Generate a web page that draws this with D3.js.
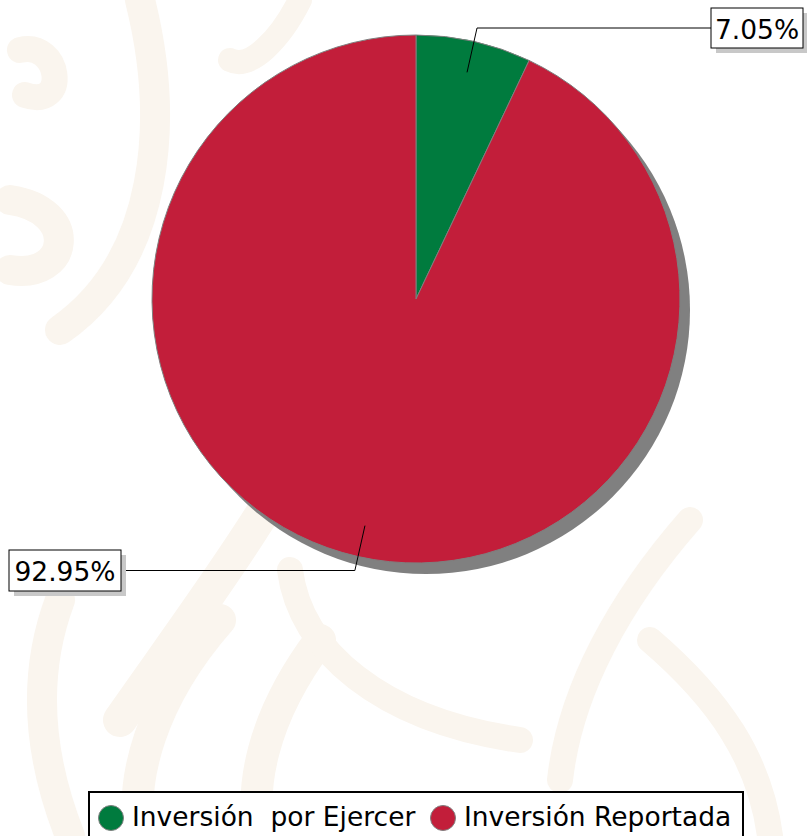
<!DOCTYPE html>
<html><head><meta charset="utf-8">
<script src="https://cdn.jsdelivr.net/npm/d3@7"></script>
<style>
html,body{margin:0;padding:0;background:#fff;}
svg{display:block;}
text{font-family:"DejaVu Sans",sans-serif;}
</style></head>
<body>
<div id="chart"></div>
<script>
const categories = ["Inversión  por Ejercer", "Inversión Reportada"];
const values = [7.05, 92.95];
const labels = ["7.05%", "92.95%"];
const colors = ["#007b3e", "#c21e3a"];

const W = 807, H = 836;
const svg = d3.select("#chart").append("svg").attr("width", W).attr("height", H);

// faint decorative background
const bg = svg.append("g").attr("fill", "none").attr("stroke", "#faf5ee").attr("stroke-linecap", "round");
const bgPaths = [
  ["M20,50 C60,40 70,110 25,95", 26],
  ["M10,200 C80,210 70,280 10,270", 30],
  ["M140,0 C170,120 160,260 60,330", 30],
  ["M420,80 C390,360 260,520 120,720", 34],
  ["M220,620 C150,700 130,780 140,836", 32],
  ["M60,600 C30,680 40,760 70,836", 30],
  ["M320,640 C260,720 250,790 260,836", 32],
  ["M690,520 C620,600 570,690 560,780", 26],
  ["M650,640 C720,700 760,760 770,836", 26],
  ["M290,570 C300,650 380,720 520,740", 26],
  ["M230,60 C250,70 280,40 300,0", 24]
];
bg.selectAll("path").data(bgPaths).join("path").attr("d", d => d[0]).attr("stroke-width", d => d[1]);

const cx = 416, cy = 299, R = 264;
const pie = d3.pie().sort(null).value(d => d)(values);
const arc = d3.arc().innerRadius(0).outerRadius(R);

// shadow
svg.append("circle").attr("cx", cx + 10).attr("cy", cy + 11).attr("r", R).attr("fill", "#808080");

const g = svg.append("g").attr("transform", `translate(${cx},${cy})`);
g.selectAll("path.slice").data(pie).join("path").attr("class", "slice")
  .attr("d", arc).attr("fill", (d, i) => colors[i])
  .attr("stroke", "#7f7f7f").attr("stroke-width", 1);

// labels with leader lines
const inner = d3.arc().innerRadius(R * 0.88).outerRadius(R * 0.88);
const outer = d3.arc().innerRadius(R * 1.04).outerRadius(R * 1.04);
const boxSpec = [
  {side: 1, x: 711, w: 92, y: 8, h: 40},
  {side: -1, x: 9, w: 112, y: 550, h: 41}
];
pie.forEach((d, i) => {
  const p1 = inner.centroid(d), p2 = outer.centroid(d);
  const b = boxSpec[i];
  const ex = (b.side > 0 ? b.x : b.x + b.w) - cx;
  const ey = b.y + b.h / 2 - cy;
  const elbow = [p2[0] + (ey - p2[1]) * (p2[0] - p1[0]) / (p2[1] - p1[1]), ey];
  g.append("polyline").attr("points", [p1, elbow, [ex, ey]].map(p => p.join(",")).join(" "))
    .attr("fill", "none").attr("stroke", "#000").attr("stroke-width", 1);
  svg.append("rect").attr("x", b.x + 5).attr("y", b.y + 5).attr("width", b.w).attr("height", b.h).attr("fill", "#c8c8c8");
  svg.append("rect").attr("x", b.x).attr("y", b.y).attr("width", b.w).attr("height", b.h)
    .attr("fill", "#fff").attr("stroke", "#000").attr("stroke-width", 1);
  svg.append("text").attr("x", b.x + b.w / 2).attr("y", b.y + b.h / 2 + 10.5)
    .attr("text-anchor", "middle").attr("font-size", 26.5).attr("fill", "#000").text(labels[i]);
});

// legend
const lg = svg.append("g");
lg.append("rect").attr("x", 89).attr("y", 792).attr("width", 654).attr("height", 50)
  .attr("fill", "#fff").attr("stroke", "#000").attr("stroke-width", 2);
const legX = [111, 443];
categories.forEach((c, i) => {
  lg.append("circle").attr("cx", legX[i]).attr("cy", 818).attr("r", 12.5).attr("fill", colors[i]).attr("stroke", "#7f7f7f");
  lg.append("text").attr("x", legX[i] + 21).attr("y", 826).attr("font-size", 26.5).attr("fill", "#000")
    .attr("xml:space", "preserve").text(c);
});
</script>
</body></html>
